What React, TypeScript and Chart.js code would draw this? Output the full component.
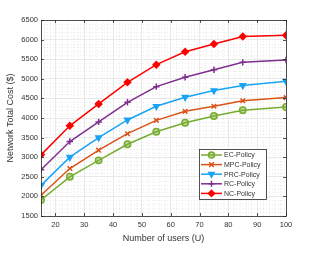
import React, { useEffect, useRef } from 'react';
import { Chart, registerables } from 'chart.js';

Chart.register(...registerables);

const users = [15, 25, 35, 45, 55, 65, 75, 85, 100];
const ecPolicy = [1910, 2500, 2920, 3330, 3650, 3880, 4050, 4200, 4280];
const mpcPolicy = [2030, 2710, 3180, 3600, 3940, 4170, 4300, 4440, 4520];
const prcPolicy = [2280, 3000, 3500, 3950, 4300, 4530, 4700, 4830, 4940];
const rcPolicy = [2680, 3400, 3900, 4400, 4800, 5040, 5230, 5420, 5480];
const ncPolicy = [3060, 3800, 4360, 4910, 5360, 5690, 5890, 6080, 6110];
const xTicks = [20, 30, 40, 50, 60, 70, 80, 90, 100];
const yTicks = [1500, 2000, 2500, 3000, 3500, 4000, 4500, 5000, 5500, 6000, 6500];

const FONT = "'Liberation Sans', Arial, Helvetica, sans-serif";
const TEXT = '#333333';

function drawMarker(ctx: CanvasRenderingContext2D, style: string, x: number, y: number, r: number, stroke: string, fill: string, rot: number) {
  ctx.save();
  ctx.strokeStyle = stroke;
  ctx.fillStyle = fill;
  ctx.lineWidth = 1.5;
  ctx.beginPath();
  if (style === 'circle') {
    ctx.arc(x, y, r, 0, Math.PI * 2);
    ctx.fill();
    ctx.stroke();
  } else if (style === 'crossRot') {
    const d = r * 0.8;
    ctx.moveTo(x - d, y - d); ctx.lineTo(x + d, y + d);
    ctx.moveTo(x + d, y - d); ctx.lineTo(x - d, y + d);
    ctx.stroke();
  } else if (style === 'cross') {
    ctx.moveTo(x - r, y); ctx.lineTo(x + r, y);
    ctx.moveTo(x, y - r); ctx.lineTo(x, y + r);
    ctx.stroke();
  } else if (style === 'triangle') {
    const s = rot === 180 ? -1 : 1;
    ctx.moveTo(x, y - s * r);
    ctx.lineTo(x + r * 0.9, y + s * r * 0.6);
    ctx.lineTo(x - r * 0.9, y + s * r * 0.6);
    ctx.closePath();
    ctx.fill();
    ctx.stroke();
  } else if (style === 'rectRot') {
    ctx.moveTo(x, y - r); ctx.lineTo(x + r, y); ctx.lineTo(x, y + r); ctx.lineTo(x - r, y);
    ctx.closePath();
    ctx.fill();
    ctx.stroke();
  }
  ctx.restore();
}

const matlabPlugin = {
  id: 'matlabFrame',
  beforeDatasetsDraw(chart: any) {
    const { ctx, chartArea } = chart;
    const xs = chart.scales.x;
    const ys = chart.scales.y;
    ctx.save();
    ctx.strokeStyle = '#dedede';
    ctx.lineWidth = 0.6;
    ctx.setLineDash([1, 2]);
    for (let v = 16; v < 100; v += 2) {
      if (v % 10 === 0) continue;
      const px = Math.round(xs.getPixelForValue(v)) + 0.5;
      ctx.beginPath();
      ctx.moveTo(px, chartArea.top);
      ctx.lineTo(px, chartArea.bottom);
      ctx.stroke();
    }
    for (let v = 1600; v < 6500; v += 100) {
      if (v % 500 === 0) continue;
      const py = Math.round(ys.getPixelForValue(v)) + 0.5;
      ctx.beginPath();
      ctx.moveTo(chartArea.left, py);
      ctx.lineTo(chartArea.right, py);
      ctx.stroke();
    }
    ctx.restore();
  },
  afterDatasetsDraw(chart: any) {
    const { ctx, chartArea } = chart;
    const xs = chart.scales.x;
    const ys = chart.scales.y;
    const { left, right, top, bottom } = chartArea;
    ctx.save();
    ctx.strokeStyle = '#262626';
    ctx.lineWidth = 0.8;
    ctx.setLineDash([]);
    ctx.strokeRect(Math.round(left) + 0.5, Math.round(top) + 0.5, Math.round(right - left), Math.round(bottom - top));
    const tl = 3;
    xTicks.forEach((v) => {
      const px = Math.round(xs.getPixelForValue(v)) + 0.5;
      ctx.beginPath();
      ctx.moveTo(px, bottom); ctx.lineTo(px, bottom - tl);
      ctx.moveTo(px, top); ctx.lineTo(px, top + tl);
      ctx.stroke();
    });
    yTicks.forEach((v) => {
      const py = Math.round(ys.getPixelForValue(v)) + 0.5;
      ctx.beginPath();
      ctx.moveTo(left, py); ctx.lineTo(left + tl, py);
      ctx.moveTo(right, py); ctx.lineTo(right - tl, py);
      ctx.stroke();
    });

    // legend
    const lx = 199, ly = 149, lw = 67, lh = 50;
    ctx.fillStyle = '#ffffff';
    ctx.fillRect(lx, ly, lw, lh);
    ctx.strokeStyle = '#262626';
    ctx.lineWidth = 0.8;
    ctx.strokeRect(lx + 0.5, ly + 0.5, lw, lh);
    ctx.font = `7px ${FONT}`;
    ctx.textBaseline = 'middle';
    ctx.textAlign = 'left';
    chart.data.datasets.forEach((ds: any, i: number) => {
      const y = ly + 6 + i * 9.6;
      ctx.strokeStyle = ds.borderColor;
      ctx.lineWidth = 1.5;
      ctx.beginPath();
      ctx.moveTo(lx + 2, y);
      ctx.lineTo(lx + 23, y);
      ctx.stroke();
      drawMarker(ctx, ds.pointStyle, lx + 12.5, y, 3, ds.pointBorderColor, ds.pointBackgroundColor, ds.pointRotation || 0);
      ctx.fillStyle = TEXT;
      ctx.fillText(ds.label, lx + 25, y + 0.5);
    });
    ctx.restore();
  },
};

export default function App() {
  const ref = useRef<HTMLCanvasElement | null>(null);
  useEffect(() => {
    document.body.style.margin = '0';
    if (!ref.current) return;
    const mk = (label: string, data: number[], color: string, style: string, fill: string, rot = 0) => ({
      label,
      data: users.map((u, i) => ({ x: u, y: data[i] })),
      borderColor: color,
      backgroundColor: color,
      borderWidth: 1.5,
      pointStyle: style,
      pointRadius: 3.2,
      pointBorderWidth: 1.5,
      pointBorderColor: color,
      pointBackgroundColor: fill,
      pointRotation: rot,
      tension: 0,
    });
    const chart = new Chart(ref.current, {
      type: 'line',
      data: {
        datasets: [
          mk('EC-Policy', ecPolicy, '#77AC30', 'circle', 'rgba(119,172,48,0.45)'),
          mk('MPC-Policy', mpcPolicy, '#D95319', 'crossRot', '#D95319'),
          mk('PRC-Policy', prcPolicy, '#1AA3F5', 'triangle', '#1AA3F5', 180),
          mk('RC-Policy', rcPolicy, '#7E2F8E', 'cross', '#7E2F8E'),
          mk('NC-Policy', ncPolicy, '#FF0000', 'rectRot', '#FF0000'),
        ] as any,
      },
      options: {
        animation: false,
        responsive: false,
        devicePixelRatio: 1,
        layout: { padding: { top: 20, right: 30, left: 0, bottom: 0 } },
        plugins: { legend: { display: false }, tooltip: { enabled: false } },
        scales: {
          x: {
            type: 'linear',
            min: 15,
            max: 100,
            afterBuildTicks: (s: any) => { s.ticks = xTicks.map((v) => ({ value: v })); },
            afterFit: (s: any) => { s.height = 38; },
            ticks: { font: { family: FONT, size: 7.5 }, color: TEXT, maxRotation: 0, padding: 4, callback: (v: any) => String(v) },
            grid: { color: '#e4e4e4', lineWidth: 0.8, drawTicks: false },
            border: { display: false },
            title: { display: true, text: 'Number of users (U)', color: TEXT, font: { family: FONT, size: 9 }, padding: { top: 0, bottom: 10 } },
          },
          y: {
            type: 'linear',
            min: 1500,
            max: 6500,
            afterBuildTicks: (s: any) => { s.ticks = yTicks.map((v) => ({ value: v })); },
            afterFit: (s: any) => { s.width = 41; },
            ticks: { font: { family: FONT, size: 7.5 }, color: TEXT, padding: 3, callback: (v: any) => String(v) },
            grid: { color: '#e4e4e4', lineWidth: 0.8, drawTicks: false },
            border: { display: false },
            title: { display: true, text: 'Network Total Cost ($)', color: TEXT, font: { family: FONT, size: 9 }, padding: { top: 5, bottom: 0 } },
          },
        },
      } as any,
      plugins: [matlabPlugin],
    });
    return () => chart.destroy();
  }, []);
  return <canvas ref={ref} width={316} height={254} style={{ display: 'block' }} />;
}
